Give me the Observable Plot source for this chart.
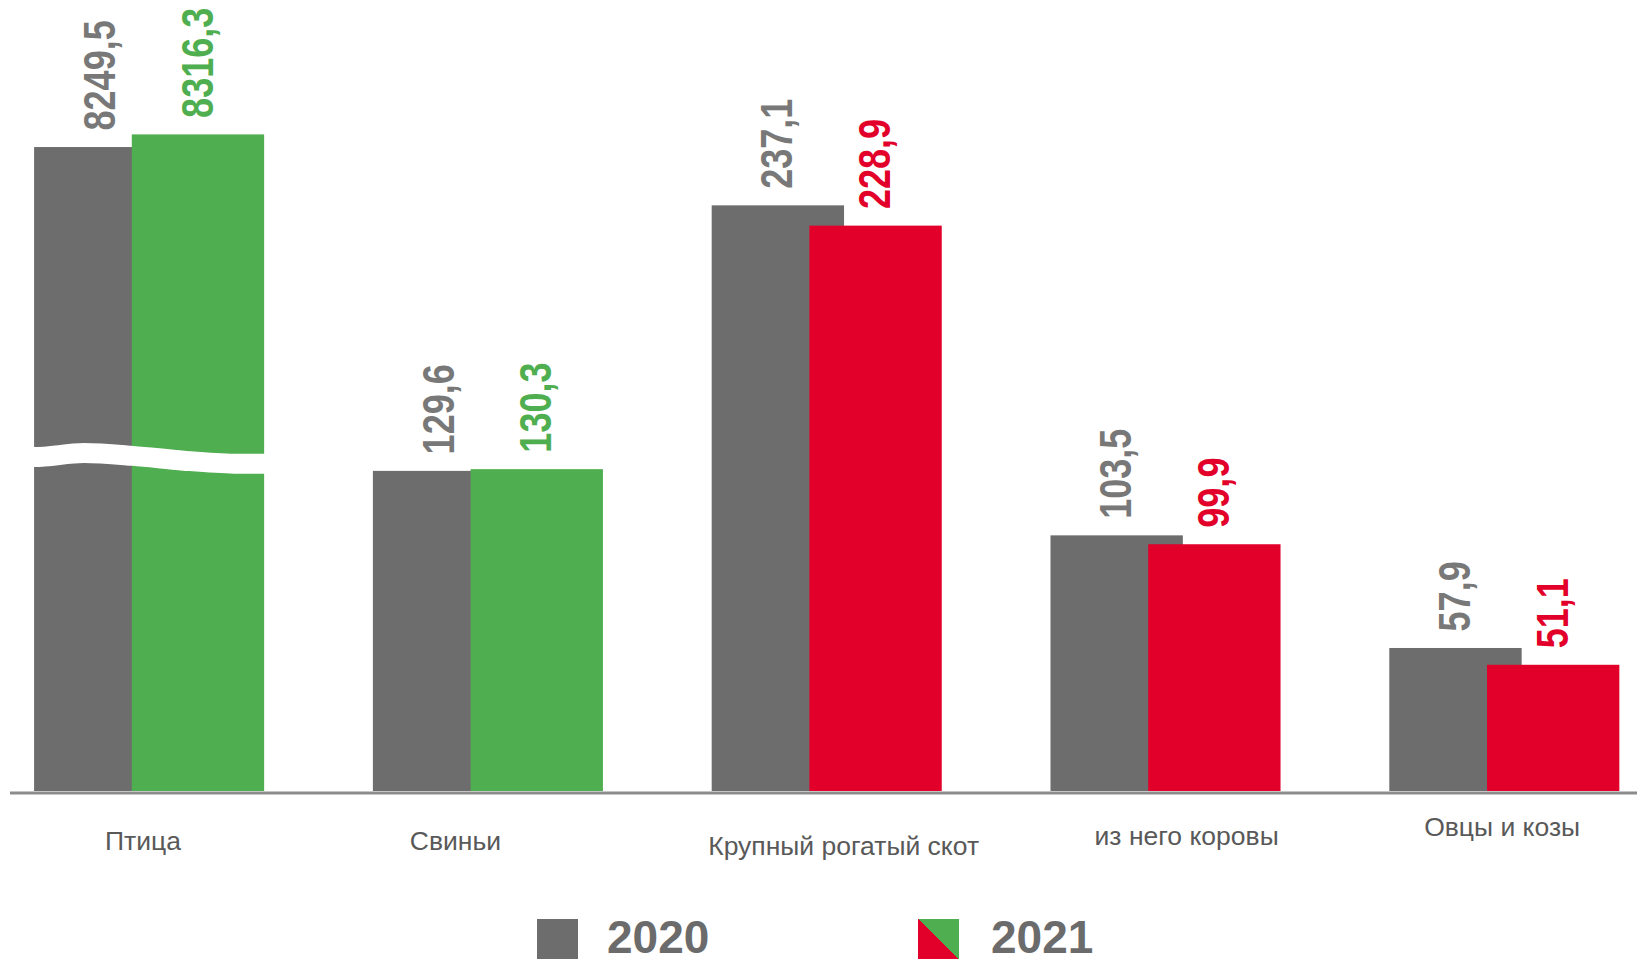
<!DOCTYPE html>
<html>
<head>
<meta charset="utf-8">
<script src="https://cdn.jsdelivr.net/npm/d3@7"></script>
<script src="https://cdn.jsdelivr.net/npm/@observablehq/plot@0.6"></script>
<style>
  html, body { margin: 0; padding: 0; background: #ffffff; }
  #chart svg { display: block; }
  #legend { position: relative; width: 1647px; height: 84px; font-family: "Liberation Sans", Arial, sans-serif; }
  #legend .sw { position: absolute; top: 39px; width: 41px; height: 40px; }
  #legend .lab { position: absolute; top: 37px; font-size: 46px; line-height: 40px; font-weight: bold; color: #6b6b6b; }
</style>
</head>
<body>
<div id="chart"></div>
<div id="legend">
  <div class="sw" style="left:537px;background:#6d6d6d;"></div>
  <div class="lab" style="left:607px;">2020</div>
  <div class="sw" style="left:918px;background:linear-gradient(to top right,#e2002b 50%,#4fae4f 50%);"></div>
  <div class="lab" style="left:991px;">2021</div>
</div>
<script>
// ---- data ----
const categories = ["Птица", "Свиньи", "Крупный рогатый скот", "из него коровы", "Овцы и козы"];
const values2020 = [8249.5, 129.6, 237.1, 103.5, 57.9];
const values2021 = [8316.3, 130.3, 228.9, 99.9, 51.1];

// ---- styling / layout ----
const GREY = "#6d6d6d", GREY_TEXT = "#787878", GREEN = "#4fae4f", RED = "#e2002b";
const SANS = '"Liberation Sans",Arial,sans-serif';
const BAR_SHIFT = 97.7;       // horizontal offset of the 2021 bar over the 2020 bar
const LABEL_GAP = 17;
const VALUE_FONT = 44, VALUE_SQUEEZE = 0.82;  // value labels are a condensed bold face
// axis break: values above breakFrom are drawn on a compressed segment
const breakFrom = 8000, breakShown = 241.6, breakRatio = 0.0766;
const shown = v => v > breakFrom ? breakShown + (v - breakFrom) * breakRatio : v;
const fmt = v => v.toFixed(1).replace(".", ",");
// small per-label nudges [dx, dy] of the category names (as in the original layout)
const labelNudge = [[-6.6, 58], [-33, 58], [16.4, 63], [20.6, 53.5], [-2.7, 44]];

const rows = categories.map((c, i) => ({category: c, v2020: values2020[i], v2021: values2021[i]}));
const col2021 = d => d.v2021 >= d.v2020 ? GREEN : RED;

const W = 1647, H = 880, BASE = 791, PX_PER_UNIT = 2.47;

const chart = Plot.plot({
  width: W,
  height: H,
  marginLeft: 10,
  marginRight: 10,
  marginTop: 0,
  marginBottom: H - BASE,
  x: {domain: categories, axis: null, paddingInner: 0.321, paddingOuter: 0.0616, align: 0.577, round: false},
  y: {domain: [0, BASE / PX_PER_UNIT], axis: null},
  color: {type: "identity"},
  style: {background: "#ffffff"},
  marks: [
    Plot.barY(rows, {x: "category", y: d => shown(d.v2020), fill: GREY, insetRight: BAR_SHIFT}),
    Plot.barY(rows, {x: "category", y: d => shown(d.v2021), fill: col2021, insetLeft: BAR_SHIFT}),
    Plot.ruleY([0], {stroke: "#8c8c8c", strokeWidth: 3, dy: 1.5}),
    Plot.text(rows, {x: "category", y: d => shown(d.v2020), text: d => fmt(d.v2020), rotate: -90, textAnchor: "start",
      dx: -BAR_SHIFT / 2, dy: -LABEL_GAP, fill: GREY_TEXT, fontSize: VALUE_FONT, fontWeight: "bold", fontFamily: SANS}),
    Plot.text(rows, {x: "category", y: d => shown(d.v2021), text: d => fmt(d.v2021), rotate: -90, textAnchor: "start",
      dx: BAR_SHIFT / 2, dy: -LABEL_GAP, fill: col2021, fontSize: VALUE_FONT, fontWeight: "bold", fontFamily: SANS}),
    ...categories.map((c, i) => Plot.text([c], {x: d => d, frameAnchor: "bottom", lineAnchor: "bottom",
      dx: labelNudge[i][0], dy: labelNudge[i][1], fill: "#595959", fontSize: 26.5, fontFamily: SANS}))
  ]
});

// condense the rotated value labels along their reading direction
d3.select(chart).selectAll(`g[font-size="${VALUE_FONT}"] text`).each(function () {
  const t = this.getAttribute("transform") || "";
  this.setAttribute("transform", t + ` scale(${VALUE_SQUEEZE},1)`);
});

// draw the wavy white axis-break band across the first (broken) bar pair using the plot's scales
(function drawBreak() {
  const xs = chart.scale("x"), ys = chart.scale("y");
  const x0 = xs.apply(categories[0]), bw = xs.bandwidth;
  const yc = ys.apply(135.2);
  const wave = [[-0.03, 0], [0, 0], [0.217, -4], [0.43, -1.2], [0.65, 3.6], [0.87, 6.6], [1, 6.8], [1.03, 6.8]];
  const line = d3.line().x(p => x0 + p[0] * bw).y(p => yc + p[1]).curve(d3.curveMonotoneX);
  d3.select(chart).append("path").attr("d", line(wave)).attr("fill", "none")
    .attr("stroke", "#ffffff").attr("stroke-width", 20);
})();

document.getElementById("chart").appendChild(chart);
</script>
</body>
</html>
